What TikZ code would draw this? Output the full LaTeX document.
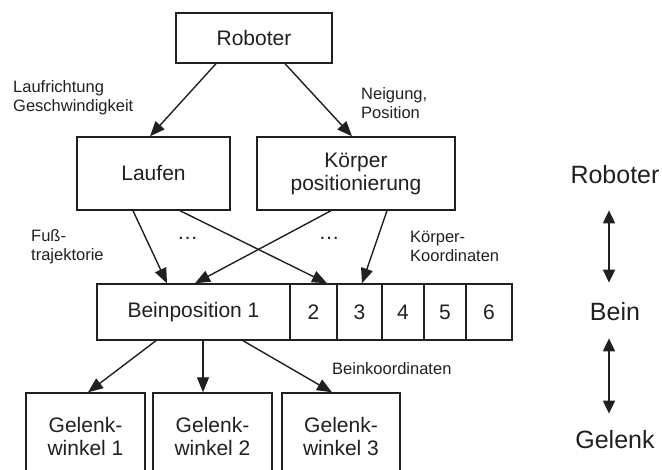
\documentclass[tikz,border=0pt]{standalone}
\usepackage{fontspec}
\setmainfont{Liberation Sans}
\usetikzlibrary{arrows.meta}
\definecolor{ink}{RGB}{35,31,32}
\begin{document}
\begin{tikzpicture}[x=1pt,y=-1pt,
  box/.style={draw=ink, line width=1.4pt, fill=white, inner sep=0pt, align=center,
              text=ink, font=\fontsize{21}{23}\selectfont},
  lbl/.style={inner sep=0pt, anchor=west, align=left, text=ink,
              font=\fontsize{16.5}{19}\selectfont},
  lvl/.style={inner sep=0pt, text=ink, font=\fontsize{25}{28}\selectfont},
  flow/.style={draw=ink, line width=1.4pt, -{Triangle[length=15pt,width=12pt]}},
  both/.style={draw=ink, line width=1.8pt,
               {Triangle[length=13pt,width=12pt]}-{Triangle[length=13pt,width=12pt]}},
]
\useasboundingbox (0,0) rectangle (662,470);
\clip (0,0) rectangle (662,470);

% top level
\node[box, minimum width=156pt, minimum height=50pt] (roboter) at (254,38) {Roboter};
\node[box, minimum width=153pt, minimum height=73pt] (laufen) at (153.5,173.5) {Laufen};
\node[box, minimum width=198pt, minimum height=73pt] (koerper) at (356,173.5) {Körper\\positionierung};

% leg positions
\node[box, minimum width=193pt, minimum height=56pt] (b1) at (193.5,312) {Beinposition 1};
\node[box, minimum width=47pt, minimum height=56pt] (b2) at (313.5,312) {2};
\node[box, minimum width=45pt, minimum height=56pt] (b3) at (359.5,312) {3};
\node[box, minimum width=42pt, minimum height=56pt] (b4) at (403,312) {4};
\node[box, minimum width=42pt, minimum height=56pt] (b5) at (445,312) {5};
\node[box, minimum width=46pt, minimum height=56pt] (b6) at (489,312) {6};

% joint angles
\node[box, minimum width=119pt, minimum height=87pt] (g1) at (85.5,436.5) {Gelenk-\\winkel 1};
\node[box, minimum width=119pt, minimum height=87pt] (g2) at (212.5,436.5) {Gelenk-\\winkel 2};
\node[box, minimum width=118pt, minimum height=87pt] (g3) at (341,436.5) {Gelenk-\\winkel 3};

% labels
\node[lbl] (lrich) at (13,97.5) {Laufrichtung\\Geschwindigkeit};
\node[lbl] (lneig) at (361,103) {Neigung,\\Position};
\node[lbl] (lfuss) at (31,246.5) {Fuß-\\trajektorie};
\node[lbl] (lkoord) at (410,246.5) {Körper-\\Koordinaten};
\node[lbl] (lbein) at (332,369) {Beinkoordinaten};
\node[inner sep=0pt, anchor=base, text=ink, font=\fontsize{21}{23}\selectfont] (dotsA) at (187.5,240) {…};
\node[inner sep=0pt, anchor=base, text=ink, font=\fontsize{21}{23}\selectfont] (dotsB) at (329,240) {…};

% connectors
\draw[flow] ([xshift=-38pt]roboter.south) -- ([xshift=-3.5pt]laufen.north);
\draw[flow] ([xshift=31pt]roboter.south) -- ([xshift=-4pt]koerper.north);
\draw[flow] ([xshift=-20.5pt]laufen.south) -- ([xshift=-26.5pt]b1.north);
\draw[flow] ([xshift=26.5pt]laufen.south) -- ([xshift=13.5pt]b2.north);
\draw[flow] ([xshift=-25pt]koerper.south) -- ([xshift=1.5pt]b1.north);
\draw[flow] ([xshift=31pt]koerper.south) -- ([xshift=2.5pt]b3.north);
\draw[flow] ([xshift=-37.5pt]b1.south) -- ([xshift=2.5pt]g1.north);
\draw[flow] ([xshift=9.5pt]b1.south) -- ([xshift=-9.5pt]g2.north);
\draw[flow] ([xshift=49.5pt]b1.south) -- ([xshift=-9pt]g3.north);

% hierarchy levels
\node[lvl] (rRob) at (615,175) {Roboter};
\node[lvl] (rBein) at (615,312) {Bein};
\node[lvl] (rGel) at (615,440) {Gelenk};
\draw[both] ([xshift=-6pt,yshift=-26pt]rRob.south) -- ([xshift=-6pt,yshift=20pt]rBein.north);
\draw[both] ([xshift=-6pt,yshift=-17pt]rBein.south) -- ([xshift=-6pt,yshift=17pt]rGel.north);
\end{tikzpicture}
\end{document}
